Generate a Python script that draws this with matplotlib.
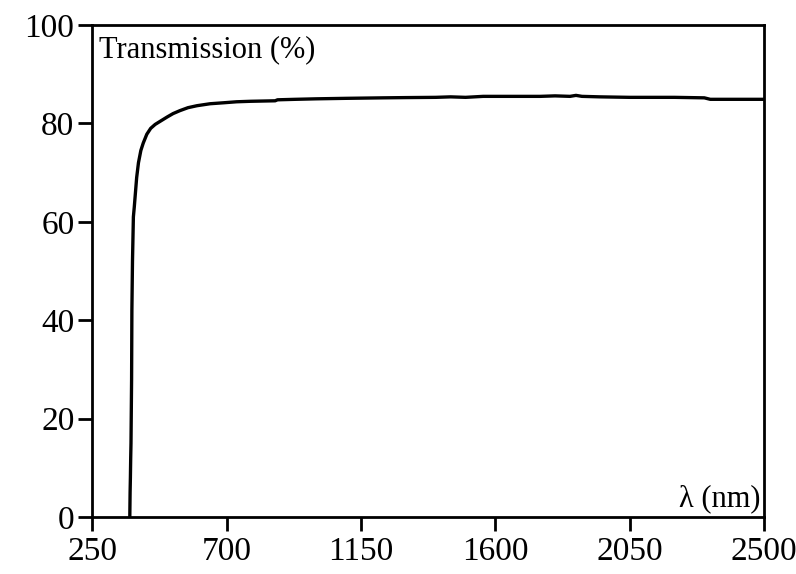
import matplotlib
matplotlib.use("Agg")
import matplotlib.pyplot as plt

wavelength_nm = [375, 376, 377, 378, 379, 381, 382, 384, 386, 387, 390, 394, 398,
                 404, 412, 420, 432, 445, 460, 476, 500, 520, 543, 570, 600, 644,
                 690, 733, 780, 862, 870, 930, 1000, 1100, 1224, 1300, 1400, 1450,
                 1500, 1559, 1650, 1750, 1800, 1850, 1870, 1890, 1950, 2050, 2200,
                 2300, 2320, 2400, 2500]
transmission = [0, 5, 8, 12, 15, 28, 42, 52, 58, 61, 63, 66, 69,
                72, 74.5, 76, 77.8, 79, 79.8, 80.4, 81.3, 82.0, 82.6, 83.2, 83.6, 84.0,
                84.2, 84.4, 84.5, 84.6, 84.8, 84.9, 85.0, 85.1, 85.2, 85.25, 85.3, 85.4,
                85.3, 85.5, 85.5, 85.5, 85.6, 85.5, 85.7, 85.5, 85.4, 85.3, 85.3,
                85.2, 84.9, 84.9, 84.9]

x_ticks = [250, 700, 1150, 1600, 2050, 2500]
y_ticks = [0, 20, 40, 60, 80, 100]

plt.rcParams['font.family'] = ['Liberation Serif', 'DejaVu Serif']

fig = plt.figure(figsize=(7.96, 5.74), dpi=100)
ax = fig.add_axes([0.1162, 0.0993, 0.9598 - 0.1162, 0.9564 - 0.0993])
ax.plot(wavelength_nm, transmission, color='black', lw=2.4, solid_joinstyle='round')
ax.set_xlim(250, 2500)
ax.set_ylim(0, 100)
ax.set_xticks(x_ticks)
ax.set_yticks(y_ticks)
ax.tick_params(direction='out', length=10, width=2.0, labelsize=24, colors='black')
ax.tick_params(axis='x', pad=4)
ax.tick_params(axis='y', pad=3)
for s in ax.spines.values():
    s.set_linewidth(2.0)
ax.text(0.01, 0.98, 'Transmission (%)', transform=ax.transAxes, ha='left', va='top',
        fontsize=22)
ax.text(0.995, 0.008, 'λ (nm)', transform=ax.transAxes, ha='right', va='bottom',
        fontsize=22)
fig.savefig('out.png', dpi=100)
